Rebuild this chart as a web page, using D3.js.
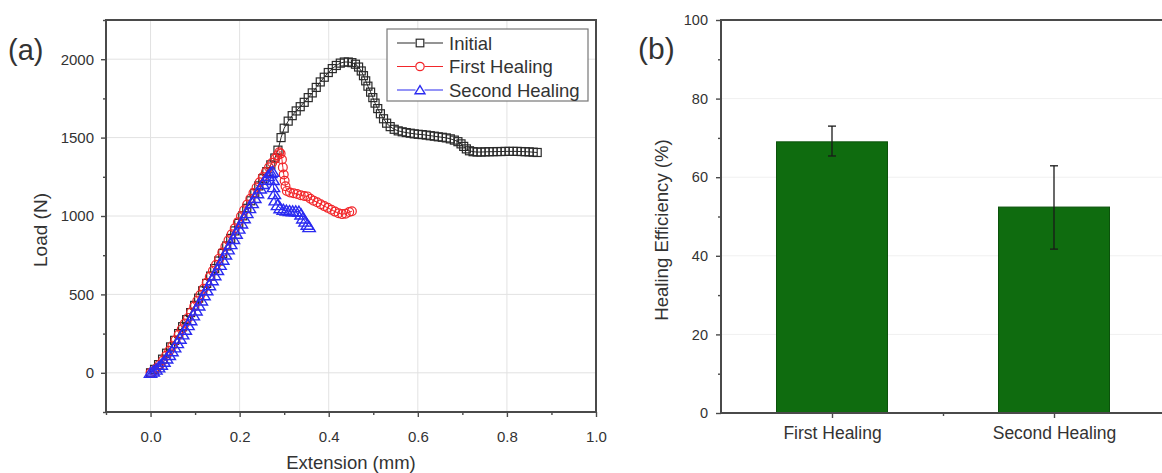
<!DOCTYPE html>
<html>
<head>
<meta charset="utf-8">
<script src="https://cdn.jsdelivr.net/npm/d3@7"></script>
<style>
  html, body { margin: 0; padding: 0; background: #fff; }
  svg { display: block; font-family: "Liberation Sans", Arial, sans-serif; }
</style>
</head>
<body>
<svg id="chart" width="1162" height="473"></svg>
<script>
// ---- Load–extension curves (mm, N) ----
const initialX = [0.000,0.009,0.018,0.027,0.036,0.045,0.054,0.063,0.072,0.081,0.090,0.099,0.108,0.117,0.126,0.135,0.144,0.153,0.162,0.171,0.180,0.189,0.198,0.207,0.216,0.225,0.234,0.243,0.252,0.261,0.270,0.279,0.286,0.293,0.300,0.309,0.318,0.327,0.336,0.345,0.354,0.363,0.372,0.381,0.390,0.399,0.408,0.417,0.426,0.435,0.444,0.452,0.460,0.467,0.473,0.478,0.483,0.488,0.494,0.499,0.504,0.510,0.516,0.523,0.530,0.538,0.547,0.556,0.565,0.574,0.583,0.592,0.601,0.610,0.619,0.628,0.637,0.646,0.655,0.664,0.673,0.682,0.690,0.697,0.703,0.709,0.716,0.724,0.733,0.742,0.751,0.760,0.769,0.778,0.787,0.796,0.805,0.814,0.823,0.832,0.841,0.850,0.859,0.868];
const initialY = [0,22,52,87,125,165,207,250,294,339,384,430,476,523,570,617,665,713,761,809,857,905,953,1001,1049,1097,1145,1192,1238,1283,1326,1370,1420,1500,1560,1605,1640,1670,1697,1725,1755,1785,1820,1855,1885,1915,1940,1960,1975,1982,1982,1978,1968,1950,1925,1895,1862,1828,1790,1755,1720,1685,1652,1620,1592,1570,1553,1543,1537,1532,1528,1524,1521,1519,1516,1512,1509,1505,1502,1498,1492,1484,1474,1460,1444,1428,1416,1410,1408,1408,1409,1410,1410,1411,1411,1412,1412,1412,1412,1411,1410,1409,1407,1405];

const firstX = [0.000,0.007,0.014,0.021,0.028,0.035,0.042,0.049,0.056,0.063,0.070,0.077,0.084,0.091,0.098,0.105,0.112,0.119,0.126,0.133,0.140,0.147,0.154,0.161,0.168,0.175,0.182,0.189,0.196,0.203,0.210,0.217,0.224,0.231,0.238,0.245,0.252,0.259,0.266,0.273,0.280,0.285,0.289,0.292,0.295,0.297,0.299,0.301,0.303,0.306,0.313,0.321,0.329,0.337,0.345,0.352,0.359,0.366,0.374,0.382,0.390,0.398,0.406,0.414,0.422,0.430,0.438,0.446,0.452];
const firstY = [0,12,30,52,78,108,140,173,208,243,278,314,350,386,423,460,498,536,574,612,650,689,728,767,806,845,884,922,960,998,1036,1073,1110,1146,1181,1215,1248,1280,1311,1340,1366,1388,1406,1398,1360,1310,1265,1225,1190,1160,1150,1145,1140,1132,1128,1125,1110,1098,1088,1075,1063,1052,1040,1028,1018,1012,1015,1025,1030];

const secondX = [0.000,0.006,0.012,0.018,0.024,0.030,0.036,0.042,0.048,0.054,0.060,0.066,0.072,0.078,0.084,0.090,0.096,0.102,0.108,0.114,0.120,0.126,0.132,0.138,0.144,0.150,0.156,0.162,0.168,0.174,0.180,0.186,0.192,0.198,0.204,0.210,0.216,0.222,0.228,0.234,0.240,0.246,0.252,0.258,0.264,0.270,0.274,0.275,0.276,0.278,0.280,0.285,0.291,0.298,0.305,0.312,0.319,0.326,0.333,0.338,0.342,0.347,0.352,0.356];
const secondY = [0,9,21,35,52,71,92,114,138,163,190,218,246,275,305,336,367,398,430,462,495,527,559,591,623,656,689,722,755,788,821,854,887,920,953,986,1019,1051,1083,1115,1146,1176,1205,1232,1256,1275,1282,1230,1185,1140,1100,1070,1050,1040,1035,1032,1030,1030,1028,1010,985,965,945,930];

const seriesNames = ["Initial", "First Healing", "Second Healing"];
const extensionTicks = [0.0, 0.2, 0.4, 0.6, 0.8, 1.0];
const loadTicks = [0, 500, 1000, 1500, 2000];

// ---- Healing efficiency (%) ----
const barCategories = ["First Healing", "Second Healing"];
const barValues = [69.0, 52.4];
const barErrLow = [65.4, 41.7];
const barErrHigh = [73.0, 62.9];
const efficiencyTicks = [0, 20, 40, 60, 80, 100];

// ---------------------------------------------------------------
const AXIS = "#4a4a4a";
const TEXT = "#333";
const svg = d3.select("#chart");

function label(g, x, y, str, size, anchor) {
  return g.append("text")
    .attr("x", x).attr("y", y)
    .attr("text-anchor", anchor || "start")
    .attr("font-size", size)
    .attr("fill", TEXT)
    .text(str);
}
function verticalLabel(g, x, y, str, size) {
  return g.append("text")
    .attr("transform", `translate(${x},${y}) rotate(-90)`)
    .attr("text-anchor", "middle")
    .attr("font-size", size)
    .attr("fill", TEXT)
    .text(str);
}
function styleAxis(g, size) {
  g.select(".domain").remove();
  g.selectAll(".tick line").attr("stroke", AXIS).attr("stroke-width", 1.4);
  g.selectAll(".tick text")
    .attr("fill", TEXT)
    .attr("font-size", size || 15)
    .attr("font-family", "Liberation Sans, Arial, sans-serif");
}

// ================= Panel (a) =================
const xA = d3.scaleLinear().domain([-0.1, 1.0]).range([106, 596]);
const yA = d3.scaleLinear().domain([-250, 2250]).range([412, 20]);
const gA = svg.append("g");

// grid
gA.append("g").selectAll("line").data(extensionTicks.filter(v => v < 1.0)).join("line")
  .attr("x1", d => xA(d)).attr("x2", d => xA(d))
  .attr("y1", yA.range()[1]).attr("y2", yA.range()[0])
  .attr("stroke", "#e2e2e2").attr("stroke-width", 1);
gA.append("g").selectAll("line").data(loadTicks).join("line")
  .attr("x1", xA.range()[0]).attr("x2", xA.range()[1])
  .attr("y1", d => yA(d)).attr("y2", d => yA(d))
  .attr("stroke", "#e2e2e2").attr("stroke-width", 1);

// axes
const axLeftA = gA.append("g").attr("transform", `translate(${xA.range()[0]},0)`)
  .call(d3.axisLeft(yA).tickValues(loadTicks).tickSize(5).tickPadding(7).tickFormat(d3.format("d")));
styleAxis(axLeftA);
const axLeftMinorA = gA.append("g").attr("transform", `translate(${xA.range()[0]},0)`)
  .call(d3.axisLeft(yA).tickValues(d3.range(-250, 2251, 250).filter(v => v % 500 !== 0)).tickSize(3).tickFormat(""));
styleAxis(axLeftMinorA);

const axBottomA = gA.append("g").attr("transform", `translate(0,${yA.range()[0]})`)
  .call(d3.axisBottom(xA).tickValues(extensionTicks).tickSize(5).tickPadding(14).tickFormat(d3.format(".1f")));
styleAxis(axBottomA);
const axBottomMinorA = gA.append("g").attr("transform", `translate(0,${yA.range()[0]})`)
  .call(d3.axisBottom(xA).tickValues([-0.1, 0.1, 0.3, 0.5, 0.7, 0.9]).tickSize(3).tickFormat(""));
styleAxis(axBottomMinorA);

// frame
gA.append("rect")
  .attr("x", xA.range()[0]).attr("y", yA.range()[1])
  .attr("width", xA.range()[1] - xA.range()[0]).attr("height", yA.range()[0] - yA.range()[1])
  .attr("fill", "none").attr("stroke", AXIS).attr("stroke-width", 2);

// markers (k scales the symbol size)
function marker(sel, shape, color, k) {
  k = k || 1;
  if (shape === "square") {
    sel.append("rect").attr("x", -4 * k).attr("y", -4 * k).attr("width", 8 * k).attr("height", 8 * k)
      .attr("fill", "none").attr("stroke", color).attr("stroke-width", 1.2);
  } else if (shape === "circle") {
    sel.append("circle").attr("r", 4.4 * k)
      .attr("fill", "none").attr("stroke", color).attr("stroke-width", 1.2);
  } else {
    sel.append("path").attr("d", `M0,${-5.5 * k}L${6.2 * k},${4.6 * k}L${-6.2 * k},${4.6 * k}Z`)
      .attr("fill", "none").attr("stroke", color).attr("stroke-width", 1.4);
  }
}
const seriesDefs = [
  { xs: initialX, ys: initialY, color: "#2a2a2a", shape: "square" },
  { xs: firstX, ys: firstY, color: "#f2262a", shape: "circle" },
  { xs: secondX, ys: secondY, color: "#2b2bf0", shape: "triangle" }
];
const line = d3.line().x(d => xA(d[0])).y(d => yA(d[1]));
seriesDefs.forEach(s => {
  const pts = s.xs.map((x, i) => [x, s.ys[i]]);
  const g = gA.append("g");
  g.append("path").attr("d", line(pts)).attr("fill", "none")
    .attr("stroke", s.color).attr("stroke-width", 1);
  g.selectAll("g.pt").data(pts).join("g").attr("class", "pt")
    .attr("transform", d => `translate(${xA(d[0])},${yA(d[1])})`)
    .each(function () { marker(d3.select(this), s.shape, s.color); });
});

// legend
const leg = gA.append("g");
leg.append("rect").attr("x", 387).attr("y", 29).attr("width", 201).attr("height", 72)
  .attr("fill", "#fff").attr("stroke", "#777").attr("stroke-width", 1.2);
seriesNames.forEach((name, i) => {
  const y = 43 + i * 23.5;
  const s = seriesDefs[i];
  leg.append("line").attr("x1", 397).attr("x2", 443).attr("y1", y).attr("y2", y)
    .attr("stroke", s.color).attr("stroke-width", 1.2);
  const m = leg.append("g").attr("transform", `translate(420,${y})`);
  m.append("rect").attr("x", -4.5).attr("y", -4.5).attr("width", 9).attr("height", 9).attr("fill", "#fff");
  marker(m, s.shape, s.color, s.shape === "triangle" ? 0.8 : 0.95);
  label(leg, 449, y + 6.5, name, 18.5);
});

// titles
label(gA, 351, 469, "Extension (mm)", 18.5, "middle");
verticalLabel(gA, 47, 230, "Load (N)", 19);
label(gA, 8, 60, "(a)", 29);

// ================= Panel (b) =================
const xB = d3.scaleLinear().domain([0.5, 2.5]).range([721, 1165]);
const yB = d3.scaleLinear().domain([0, 100]).range([413, 20]);
const gB = svg.append("g");

gB.append("g").selectAll("line").data(efficiencyTicks.slice(1, -1)).join("line")
  .attr("x1", xB.range()[0]).attr("x2", xB.range()[1])
  .attr("y1", d => yB(d)).attr("y2", d => yB(d))
  .attr("stroke", "#f0f0f0").attr("stroke-width", 1);

const barW = 0.5;
gB.selectAll("rect.bar").data(barValues).join("rect").attr("class", "bar")
  .attr("x", (d, i) => xB(i + 1 - barW / 2))
  .attr("width", xB(1 + barW / 2) - xB(1 - barW / 2))
  .attr("y", d => yB(d))
  .attr("height", d => yB(0) - yB(d))
  .attr("fill", "#0f6c0f").attr("stroke", "#0b520b").attr("stroke-width", 1);

// error bars
const eb = gB.append("g").attr("stroke", "#1a1a1a").attr("stroke-width", 1.3);
barValues.forEach((v, i) => {
  const cx = xB(i + 1);
  eb.append("line").attr("x1", cx).attr("x2", cx).attr("y1", yB(barErrLow[i])).attr("y2", yB(barErrHigh[i]));
  [barErrLow[i], barErrHigh[i]].forEach(e => {
    eb.append("line").attr("x1", cx - 4).attr("x2", cx + 4).attr("y1", yB(e)).attr("y2", yB(e));
  });
});

const axLeftB = gB.append("g").attr("transform", `translate(${xB.range()[0]},0)`)
  .call(d3.axisLeft(yB).tickValues(efficiencyTicks).tickSize(5).tickPadding(8).tickFormat(d3.format("d")));
styleAxis(axLeftB, 14.5);
const axLeftMinorB = gB.append("g").attr("transform", `translate(${xB.range()[0]},0)`)
  .call(d3.axisLeft(yB).tickValues([10, 30, 50, 70, 90]).tickSize(3).tickFormat(""));
styleAxis(axLeftMinorB);

const axBottomB = gB.append("g").attr("transform", `translate(0,${yB.range()[0]})`)
  .call(d3.axisBottom(xB).tickValues([1, 2]).tickSize(5).tickPadding(9).tickFormat((d, i) => barCategories[i]));
styleAxis(axBottomB, 17.5);
const axBottomMinorB = gB.append("g").attr("transform", `translate(0,${yB.range()[0]})`)
  .call(d3.axisBottom(xB).tickValues([1.5]).tickSize(3).tickFormat(""));
styleAxis(axBottomMinorB);

gB.append("rect")
  .attr("x", xB.range()[0]).attr("y", yB.range()[1])
  .attr("width", xB.range()[1] - xB.range()[0]).attr("height", yB.range()[0] - yB.range()[1])
  .attr("fill", "none").attr("stroke", AXIS).attr("stroke-width", 2);

verticalLabel(gB, 668, 230, "Healing Efficiency (%)", 18.6);
label(gB, 638, 59, "(b)", 30);
</script>
</body>
</html>
